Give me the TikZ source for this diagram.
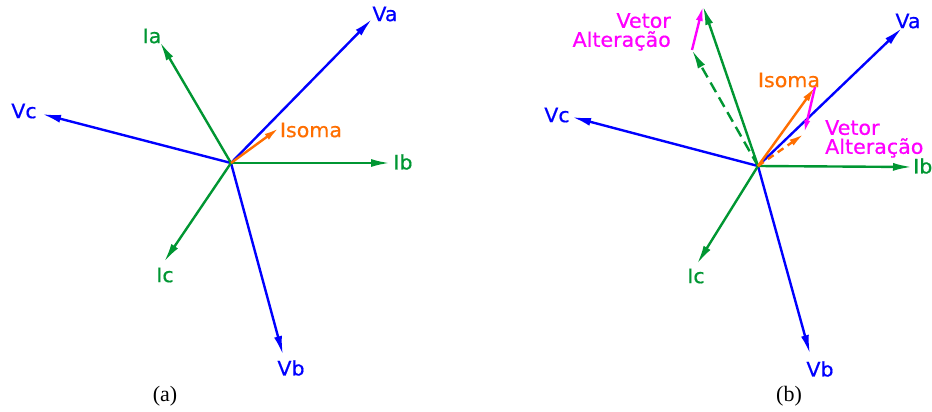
\documentclass[tikz,border=0pt]{standalone}
\usepackage{fontspec}
\setmainfont{Liberation Serif}
\newfontfamily\cadfont[FakeStretch=1.03,FakeBold=0.6]{DejaVu Sans}
\usetikzlibrary{arrows.meta}
\definecolor{cblue}{RGB}{0,0,255}
\definecolor{cgreen}{RGB}{0,150,50}
\definecolor{corange}{RGB}{255,110,0}
\definecolor{cmag}{RGB}{255,0,255}
\tikzset{
  vec/.style={line width=2.4pt,-{Latex[length=19pt,width=8pt]}},
  dvec/.style={vec,dash pattern=on 11pt off 6pt},
  smallhead/.style={-{Latex[length=15pt,width=7pt]}},
  lbl/.style={font=\cadfont\fontsize{20}{19}\selectfont,inner sep=0pt},
  captxt/.style={font=\fontsize{22}{22}\selectfont,inner sep=0pt},
}
\begin{document}
\begin{tikzpicture}[x=1pt,y=-1pt]
\useasboundingbox (0,0) rectangle (932,412);
% ---------------- panel (a)
\coordinate (Oa) at (231,163);
\coordinate (aVa) at (372,19);
\coordinate (aIa) at (160,42);
\coordinate (aVc) at (42,114);
\coordinate (aIb) at (390,163);
\coordinate (aIs) at (279,128);
\coordinate (aIc) at (164,262);
\coordinate (aVb) at (283,355);
\draw[vec,cblue] (Oa) -- (aVa);
\draw[vec,cblue] (Oa) -- (aVc);
\draw[vec,cblue] (Oa) -- (aVb);
\draw[vec,cgreen] (Oa) -- (aIa);
\draw[vec,cgreen] (Oa) -- (aIb);
\draw[vec,cgreen] (Oa) -- (aIc);
\draw[vec,corange,smallhead] (Oa) -- (aIs);
\node[lbl,text=cblue] (laVa) at (385,14) {Va};
\node[lbl,text=cgreen] (laIa) at (152,36) {Ia};
\node[lbl,text=cblue] (laVc) at (24,111) {Vc};
\node[lbl,text=corange] (laIs) at (311,130) {Isoma};
\node[lbl,text=cgreen] (laIb) at (403,162) {Ib};
\node[lbl,text=cgreen] (laIc) at (165,275) {Ic};
\node[lbl,text=cblue] (laVb) at (291,368) {Vb};
\node[captxt] (capa) at (165,396) {(a)};
% ---------------- panel (b)
\coordinate (Ob) at (758,166);
\coordinate (bVa) at (902,28);
\coordinate (bIa) at (703,6);
\coordinate (bIad) at (692,50);
\coordinate (bVc) at (572,117);
\coordinate (bIb) at (912,167);
\coordinate (bIs) at (815,87);
\coordinate (bIsd) at (804,134);
\coordinate (bIc) at (697,264);
\coordinate (bVb) at (810,354);
\draw[vec,cblue] (Ob) -- (bVa);
\draw[vec,cblue] (Ob) -- (bVc);
\draw[vec,cblue] (Ob) -- (bVb);
\draw[vec,cgreen] (Ob) -- (bIa);
\draw[vec,cgreen] (Ob) -- (bIb);
\draw[vec,cgreen] (Ob) -- (bIc);
\draw[dvec,cgreen] (Ob) -- (bIad);
\draw[vec,cmag,smallhead] (bIad) -- (bIa);
\draw[vec,corange,smallhead] (Ob) -- (bIs);
\draw[vec,cmag,-{Latex[length=14pt,width=6pt]}] (bIs) -- (bIsd);
\draw[dvec,corange,dash pattern=on 7pt off 5pt,smallhead] (Ob) -- (bIsd);
\node[lbl,text=cblue] (lbVa) at (908,21) {Va};
\node[lbl,text=cblue] (lbVc) at (557,115) {Vc};
\node[lbl,text=corange] (lbIs) at (789,80) {Isoma};
\node[lbl,text=cgreen,anchor=west] (lbIb) at (913,166) {Ib};
\node[lbl,text=cgreen] (lbIc) at (696,276) {Ic};
\node[lbl,text=cblue] (lbVb) at (820,369) {Vb};
\node[lbl,text=cmag,align=right,anchor=north east] (lbV1) at (671,13) {Vetor\\Alteração};
\node[lbl,text=cmag,align=left,anchor=north west] (lbV2) at (825,120) {Vetor\\Alteração};
\node[captxt] (capb) at (789,396) {(b)};
\end{tikzpicture}
\end{document}
